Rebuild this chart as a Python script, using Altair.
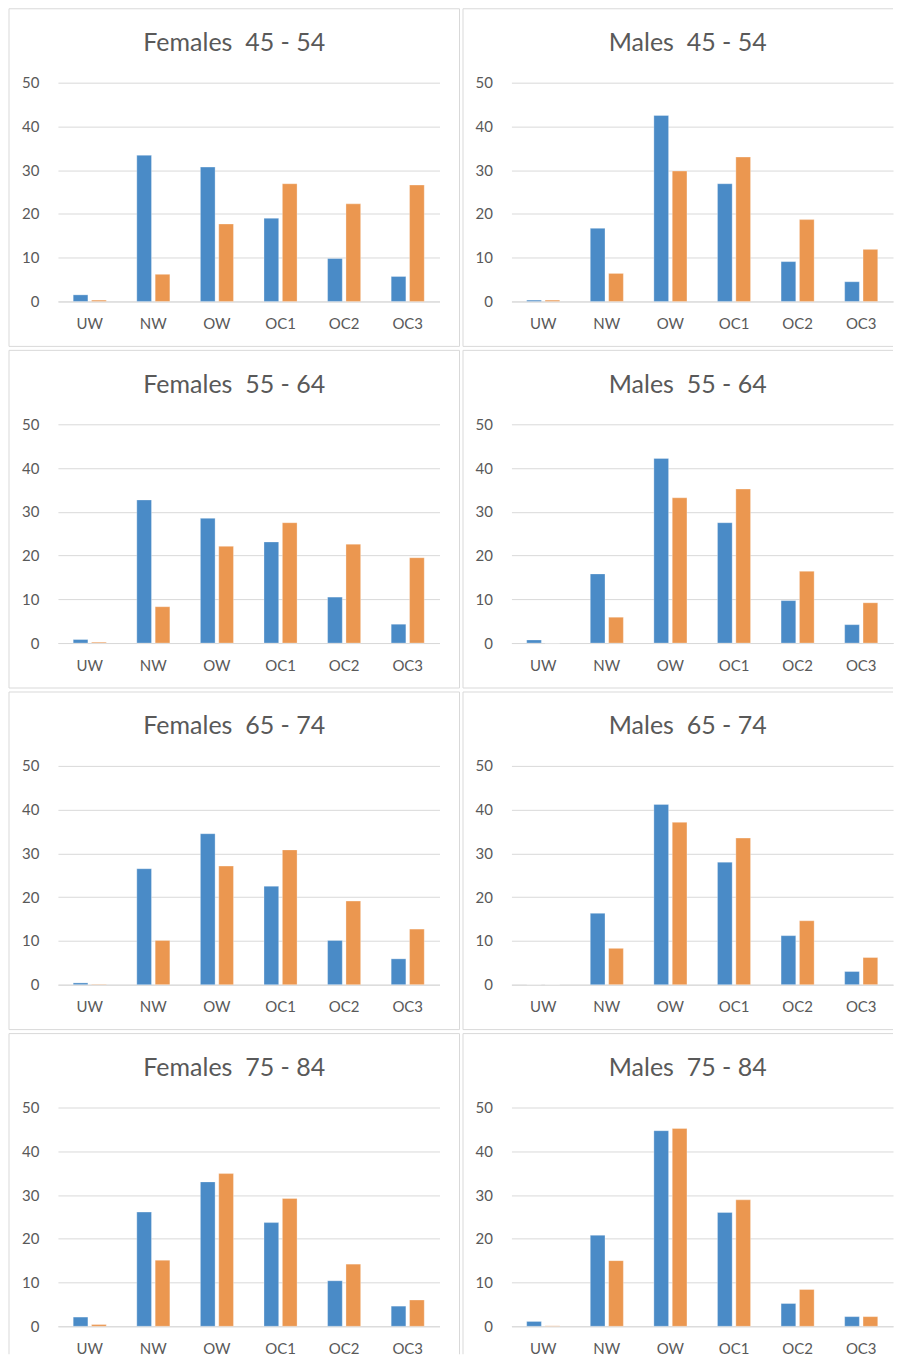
import altair as alt
import pandas as pd

categories = ["UW", "NW", "OW", "OC1", "OC2", "OC3"]
series = ["Series1", "Series2"]
colors = ["#4a8bc7", "#eb9750"]

titles = [
    "Females \u00a045 - 54", "Males \u00a045 - 54",
    "Females \u00a055 - 64", "Males \u00a055 - 64",
    "Females \u00a065 - 74", "Males \u00a065 - 74",
    "Females \u00a075 - 84", "Males \u00a075 - 84",
]

f45_s1 = [1.5, 33.4, 30.7, 19.0, 9.8, 5.7]
f45_s2 = [0.3, 6.2, 17.7, 26.9, 22.3, 26.6]
m45_s1 = [0.3, 16.7, 42.5, 26.9, 9.1, 4.5]
m45_s2 = [0.3, 6.4, 29.8, 33.0, 18.7, 11.9]
f55_s1 = [0.8, 32.7, 28.5, 23.1, 10.5, 4.3]
f55_s2 = [0.2, 8.3, 22.1, 27.5, 22.6, 19.5]
m55_s1 = [0.7, 15.8, 42.2, 27.5, 9.7, 4.2]
m55_s2 = [0.0, 5.9, 33.2, 35.2, 16.4, 9.2]
f65_s1 = [0.4, 26.5, 34.5, 22.5, 10.1, 5.9]
f65_s2 = [0.1, 10.1, 27.1, 30.8, 19.1, 12.7]
m65_s1 = [0.0, 16.3, 41.2, 28.0, 11.2, 3.0]
m65_s2 = [0.0, 8.3, 37.1, 33.5, 14.6, 6.2]
f75_s1 = [2.1, 26.1, 33.0, 23.7, 10.4, 4.6]
f75_s2 = [0.4, 15.1, 34.9, 29.2, 14.2, 6.0]
m75_s1 = [1.1, 20.8, 44.7, 26.0, 5.2, 2.2]
m75_s2 = [0.1, 15.0, 45.2, 28.9, 8.4, 2.2]

y_ticks = [0, 10, 20, 30, 40, 50]

W, H = 382, 219
TEXT = "#595959"
GRID = "#d9d9d9"
FRAME = "#d9d9d9"
FONT = "Lato"

one = pd.DataFrame({"k": [0]})


def rule(x, x2, y, y2):
    return alt.Chart(one).mark_rule(color=FRAME, strokeWidth=1).encode(
        x=alt.value(x), x2=alt.value(x2), y=alt.value(y), y2=alt.value(y2)
    )


def panel(title, s1, s2, right_col, bottom_row):
    df = pd.DataFrame({
        "category": categories * 2,
        "series": [series[0]] * 6 + [series[1]] * 6,
        "value": s1 + s2,
    })
    bars = alt.Chart(df).mark_bar(stroke="white", strokeWidth=1, strokeOpacity=0.3).encode(
        x=alt.X("category:N", sort=categories, title=None,
                scale=alt.Scale(paddingInner=0.48, paddingOuter=0.24),
                axis=alt.Axis(labelAngle=0, ticks=False, domain=True, domainColor=GRID,
                              labelColor=TEXT, labelFont=FONT, labelFontSize=15,
                              labelPadding=15, grid=False)),
        xOffset=alt.XOffset("series:N", sort=series,
                            scale=alt.Scale(paddingInner=0.2)),
        y=alt.Y("value:Q", title=None,
                scale=alt.Scale(domain=[0, 50], nice=False),
                axis=alt.Axis(values=y_ticks, ticks=False, domain=False, grid=True,
                              gridColor=GRID, gridWidth=1, labelColor=TEXT,
                              labelFont=FONT, labelFontSize=15, labelPadding=19)),
        color=alt.Color("series:N", scale=alt.Scale(domain=series, range=colors),
                        legend=None),
    )
    ttl = alt.Chart(one).mark_text(
        text=title, font=FONT, fontSize=25, color=TEXT, align="center", baseline="middle"
    ).encode(x=alt.value(176.5), y=alt.value(-39.5))

    left = -48.5 if right_col else -49
    top = -74
    rgt = W if right_col else W + 20
    bot = H + 28 if bottom_row else H + 45
    parts = [bars, ttl,
             rule(left, rgt, top, top),
             rule(left, left, top, bot)]
    if not right_col:
        parts.append(rule(rgt, rgt, top, bot))
    if not bottom_row:
        parts.append(rule(left, rgt, bot, bot))
    return alt.layer(*parts).properties(width=W, height=H)


data = [
    (f45_s1, f45_s2), (m45_s1, m45_s2),
    (f55_s1, f55_s2), (m55_s1, m55_s2),
    (f65_s1, f65_s2), (m65_s1, m65_s2),
    (f75_s1, f75_s2), (m75_s1, m75_s2),
]

rows = []
for r in range(4):
    pair = []
    for c in range(2):
        i = r * 2 + c
        pair.append(panel(titles[i], data[i][0], data[i][1], c == 1, r == 3))
    rows.append(alt.hconcat(*pair, spacing=2))

chart = alt.vconcat(*rows, spacing=2).properties(
    padding={"left": 0, "top": -1, "right": 0, "bottom": 0},
    background="white",
).configure_view(strokeWidth=0, stroke="transparent")

chart.save("out.html", embed_options={"renderer": "svg", "actions": False})
